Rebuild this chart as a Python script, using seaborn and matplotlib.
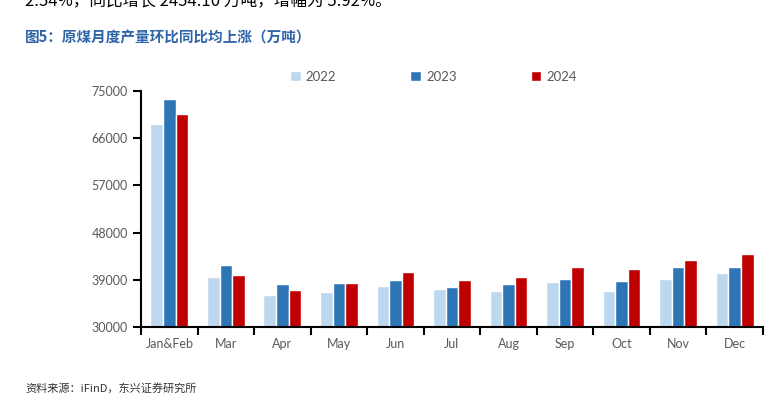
import numpy as np
import pandas as pd
import seaborn as sns
import matplotlib.pyplot as plt

months = ['Jan&Feb', 'Mar', 'Apr', 'May', 'Jun', 'Jul', 'Aug', 'Sep', 'Oct', 'Nov', 'Dec']
years = ['2022', '2023', '2024']
v2022 = [68700, 39580, 36110, 36750, 37850, 37270, 36940, 38620, 36940, 39130, 40220]
v2023 = [73470, 41770, 38170, 38490, 39000, 37720, 38170, 39260, 38810, 41450, 41450]
v2024 = [70560, 39900, 37070, 38360, 40550, 39000, 39580, 41510, 41120, 42860, 44020]
colors = ['#BDD7EE', '#2E75B6', '#C00000']

df = pd.DataFrame({
    'month': months * 3,
    'year': [y for y in years for _ in months],
    'value': v2022 + v2023 + v2024,
})

sns.set_style('white')
plt.rcParams['font.family'] = ['Lato', 'Noto Sans CJK SC', 'DejaVu Sans']

fig = plt.figure(figsize=(7.84, 3.96), dpi=100)
ax = fig.add_axes([0.180, 0.174, 0.793, 0.596])

sns.barplot(data=df, x='month', y='value', hue='year', palette=colors,
            width=0.67, saturation=1, ax=ax, legend=True)

ax.set_ylim(30000, 75000)
ax.set_yticks(np.arange(30000, 75001, 9000))
ax.set_xlim(-0.5, len(months) - 0.5)
ax.set_xlabel('')
ax.set_ylabel('')

for s in ['top', 'right']:
    ax.spines[s].set_visible(False)
for s in ['left', 'bottom']:
    ax.spines[s].set_color('black')
    ax.spines[s].set_linewidth(1.5)

ax.tick_params(axis='y', direction='out', length=6, width=1.5, color='black',
               labelsize=9, labelcolor='#595959', left=True)
ax.tick_params(axis='x', which='major', length=0, labelsize=9, labelcolor='#595959', pad=8)
ax.set_xticks(np.arange(-0.5, len(months), 1), minor=True)
ax.tick_params(axis='x', which='minor', direction='out', length=6, width=1.5,
               color='black', bottom=True)

handles, labels = ax.get_legend_handles_labels()
ax.get_legend().remove()
fig.legend(handles, labels, loc='center', bbox_to_anchor=(0.553, 0.806), ncol=3,
           frameon=False, handlelength=0.8, handleheight=0.8, handletextpad=0.4,
           columnspacing=5.6, prop={'size': 9.5}, labelcolor='#595959')

# paragraph line above the figure, cut off by the page edge as in the source
fig.text(0.032, 1 - 1 / 396, '2.54%，同比增长 2454.10 万吨，增幅为 5.92%。', fontsize=12,
         va='center', ha='left', color='black',
         family=['Noto Sans CJK SC', 'DejaVu Sans'])
fig.text(0.032, 1 - 38 / 396, '图5：原煤月度产量环比同比均上涨（万吨）', fontsize=10.5,
         fontweight='bold', va='center', ha='left', color='#2F64A8',
         family=['Noto Sans CJK SC', 'DejaVu Sans'])
fig.text(0.032, 1 - 388 / 396, '资料来源：iFinD，东兴证券研究所', fontsize=8,
         va='center', ha='left', color='#333333', style='italic',
         family=['Noto Sans CJK SC', 'DejaVu Sans'])

fig.savefig('out.png', dpi=100)
